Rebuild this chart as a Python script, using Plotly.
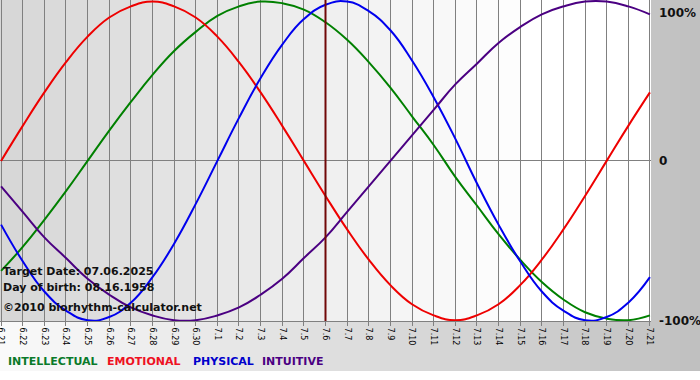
import plotly.graph_objects as go

# ---- data ----
dates = ["6.21", "6.22", "6.23", "6.24", "6.25", "6.26", "6.27", "6.28", "6.29", "6.30",
         "7.1", "7.2", "7.3", "7.4", "7.5", "7.6", "7.7", "7.8", "7.9", "7.10",
         "7.11", "7.12", "7.13", "7.14", "7.15", "7.16", "7.17", "7.18", "7.19", "7.20", "7.21"]

physical = [-0.40, -0.63, -0.82, -0.94, -1.00, -0.98, -0.89, -0.73, -0.52, -0.27,
            0.00, 0.27, 0.52, 0.73, 0.89, 0.98, 1.00, 0.94, 0.82, 0.63,
            0.40, 0.14, -0.14, -0.40, -0.63, -0.82, -0.94, -1.00, -0.98, -0.89, -0.73]

emotional = [0.00, 0.22, 0.43, 0.62, 0.78, 0.90, 0.97, 1.00, 0.97, 0.90,
             0.78, 0.62, 0.43, 0.22, 0.00, -0.22, -0.43, -0.62, -0.78, -0.90,
             -0.97, -1.00, -0.97, -0.90, -0.78, -0.62, -0.43, -0.22, 0.00, 0.22, 0.43]

intellectual = [-0.69, -0.54, -0.37, -0.19, 0.00, 0.19, 0.37, 0.54, 0.69, 0.81,
                0.91, 0.97, 1.00, 0.99, 0.95, 0.87, 0.76, 0.62, 0.46, 0.28,
                0.10, -0.10, -0.28, -0.46, -0.62, -0.76, -0.87, -0.95, -0.99, -1.00, -0.97]

intuitive = [-0.16, -0.32, -0.48, -0.61, -0.74, -0.84, -0.92, -0.97, -1.00, -1.00,
             -0.97, -0.92, -0.84, -0.74, -0.61, -0.48, -0.32, -0.16, 0.00, 0.16,
             0.32, 0.48, 0.61, 0.74, 0.84, 0.92, 0.97, 1.00, 1.00, 0.97, 0.92]

series_names = ["INTELLECTUAL", "EMOTIONAL", "PHYSICAL", "INTUITIVE"]
target_date = "7.6"
info_lines = ["Target Date: 07.06.2025", "Day of birth: 08.16.1958", "©2010 biorhythm-calculator.net"]
y_labels = ["100%", "0", "-100%"]

# ---- figure ----
W, H = 700, 380
ML, MR, MT, MB = 0, 49, 0, 59
PW, PH = W - ML - MR, H - MT - MB

def px_x(X):
    return (X - ML) / PW

def px_y(Y):
    return (MT + PH - Y) / PH

FONT = "DejaVu Sans, Verdana, sans-serif"
line_colors = {"INTELLECTUAL": "#008000", "EMOTIONAL": "#ee0000",
               "PHYSICAL": "#0000ee", "INTUITIVE": "#4b0082"}
legend_colors = {"INTELLECTUAL": "#0a7a2a", "EMOTIONAL": "#ee1122",
                 "PHYSICAL": "#0000cc", "INTUITIVE": "#4b0082"}

xs = list(range(len(dates)))
fig = go.Figure()
for name, vals in zip(series_names, [intellectual, emotional, physical, intuitive]):
    fig.add_trace(go.Scatter(x=xs, y=vals, mode="lines", name=name,
                             line=dict(color=line_colors[name], width=2, shape="spline", smoothing=1.3),
                             hoverinfo="skip"))

shapes = []
# paper background gradient (left light -> right gray)
n = 70
for i in range(n):
    X0 = i * W / n
    X1 = (i + 1) * W / n + 0.5
    c = round(250 - (250 - 192) * (i + 0.5) / n)
    shapes.append(dict(type="rect", xref="paper", yref="paper",
                       x0=px_x(X0), x1=px_x(X1), y0=px_y(371), y1=px_y(0),
                       fillcolor=f"rgb({c},{c},{c})", line=dict(width=0), layer="below"))
# plot area: banded gradient per day column
for i in range(len(dates) - 1):
    c = round(215 + 40 * min(i / 24, 1))
    x0 = -0.05 if i == 0 else i
    x1 = len(dates) - 1 + 0.05 if i == len(dates) - 2 else i + 1
    shapes.append(dict(type="rect", xref="x", yref="paper", x0=x0, x1=x1, y0=0, y1=1,
                       fillcolor=f"rgb({c},{c},{c})", line=dict(width=0), layer="below"))
# target date marker
ti = dates.index(target_date)
shapes.append(dict(type="line", xref="x", yref="paper", x0=ti, x1=ti, y0=0, y1=1,
                   line=dict(color="#700808", width=2), layer="above", opacity=1))

annotations = []
# right side labels
for lab, Y in zip(y_labels, [13, 161, 321]):
    annotations.append(dict(text=f"<b>{lab}</b>", xref="paper", yref="paper",
                            x=px_x(657), y=px_y(Y), xanchor="left", yanchor="middle",
                            showarrow=False, font=dict(family=FONT, size=12, color="#111")))
# info text
for txt, Y in zip(info_lines, [271, 287, 307]):
    annotations.append(dict(text=f"<b>{txt}</b>", xref="paper", yref="paper",
                            x=px_x(1), y=px_y(Y), xanchor="left", yanchor="middle",
                            showarrow=False, font=dict(family=FONT, size=11, color="#111")))
# legend words
for name, X in zip(series_names, [6, 105, 191, 260]):
    annotations.append(dict(text=f"<b>{name}</b>", xref="paper", yref="paper",
                            x=px_x(X), y=px_y(361), xanchor="left", yanchor="middle",
                            showarrow=False, font=dict(family=FONT, size=11, color=legend_colors[name])))

fig.update_layout(
    width=W, height=H,
    margin=dict(l=ML, r=MR, t=MT, b=MB, pad=0, autoexpand=False),
    paper_bgcolor="white", plot_bgcolor="rgba(0,0,0,0)",
    showlegend=False,
    shapes=shapes, annotations=annotations,
    xaxis=dict(range=[-0.05, len(dates) - 1 + 0.05], tickmode="array", tickvals=xs, ticktext=dates,
               tickangle=90, ticks="outside", ticklen=4, tickcolor="#808080",
               ticklabeloverflow="allow", automargin=False,
               showgrid=True, gridcolor="#808080", gridwidth=1,
               showline=True, linecolor="#808080", linewidth=1, zeroline=False,
               tickfont=dict(family=FONT, size=8, color="#000"), fixedrange=True),
    yaxis=dict(range=[-1.005, 1.01], showgrid=False, showticklabels=False, ticks="",
               automargin=False,
               zeroline=True, zerolinecolor="#808080", zerolinewidth=1, fixedrange=True),
)

fig.write_html("out.html")
